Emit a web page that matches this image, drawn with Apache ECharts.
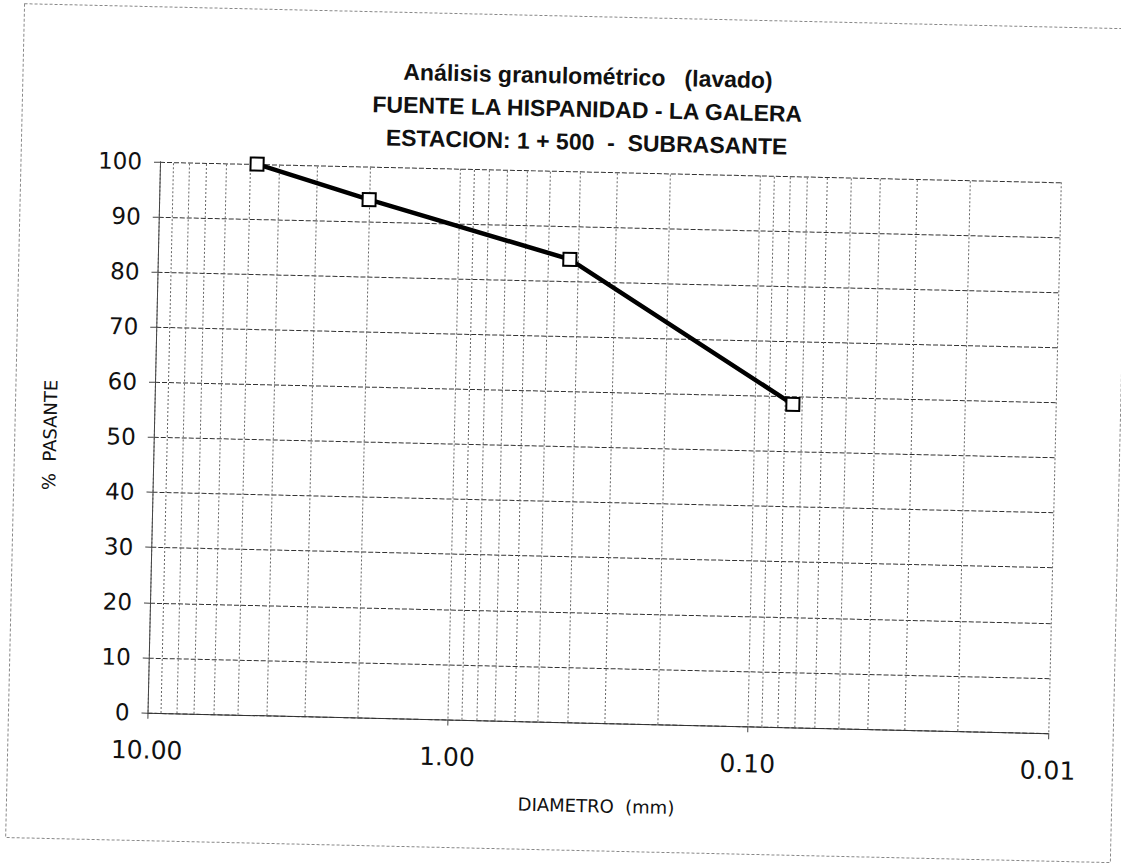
<!DOCTYPE html>
<html>
<head>
<meta charset="utf-8">
<script src="https://cdn.jsdelivr.net/npm/echarts@6/dist/echarts.min.js"></script>
<style>
html,body{margin:0;padding:0;background:#fff;overflow:hidden;}
#chart{width:1121px;height:863px;transform:rotate(1.3deg);transform-origin:50% 50%;}
</style>
</head>
<body>
<div id="chart"></div>
<script>
// ---- data ----
const titleLines = ['Análisis granulométrico\u00a0\u00a0\u00a0(lavado)', 'FUENTE LA HISPANIDAD - LA GALERA', 'ESTACION: 1 + 500\u00a0\u00a0-\u00a0\u00a0SUBRASANTE'];
const xAxisName = 'DIAMETRO\u00a0\u00a0(mm)';
const yAxisName = '%\u00a0\u00a0PASANTE';
const diameters = [4.75, 2.0, 0.425, 0.075];
const percentPassing = [100, 94.0, 84.0, 58.6];
const xMin = 0.01, xMax = 10;
const yMin = 0, yMax = 100, yStep = 10;
const decades = [1, 0.1, 0.01];
const minorMultipliers = [2, 3, 4, 5, 6, 7, 8, 9];

const minorGridValues = [];
decades.forEach(d => minorMultipliers.forEach(m => minorGridValues.push(m * d)));

const chart = echarts.init(document.getElementById('chart'), null, {renderer: 'svg'});
const gridLine = {color: '#333', width: 1, type: [5, 2]};
const vLine = {color: '#666', width: 1, type: [2, 2]};

chart.setOption({
  animation: false,
  backgroundColor: '#fff',
  title: {
    text: titleLines.join('\n'),
    left: 580,
    top: 59,
    padding: 0,
    textAlign: 'center',
    textStyle: {fontFamily: 'Liberation Sans', fontWeight: 'bold', fontSize: 23, lineHeight: 33, color: '#111'}
  },
  graphic: [{
    type: 'rect', silent: true, z: -1,
    shape: {x: 15, y: 16, width: 1105, height: 834},
    style: {fill: 'none', stroke: '#888', lineWidth: 1, lineDash: [3, 2]}
  }],
  grid: {left: 154, right: 66, top: 171, bottom: 141},
  xAxis: {
    type: 'log', logBase: 10, min: xMin, max: xMax, inverse: true,
    name: xAxisName, nameLocation: 'middle', nameGap: 74,
    nameTextStyle: {fontFamily: 'DejaVu Sans', fontSize: 18, color: '#111'},
    axisLine: {show: true, onZero: false, lineStyle: {color: '#333', width: 1}},
    axisTick: {show: true, inside: false, length: 6, lineStyle: {color: '#444'}},
    axisLabel: {
      show: true, margin: 25, fontFamily: 'DejaVu Sans', fontSize: 25, color: '#111',
      showMinLabel: true, showMaxLabel: true,
      formatter: v => Number(v).toFixed(2)
    },
    splitLine: {show: true, lineStyle: vLine}
  },
  yAxis: {
    type: 'value', min: yMin, max: yMax, interval: yStep,
    name: yAxisName, nameLocation: 'middle', nameGap: 95, nameRotate: 90,
    nameTextStyle: {fontFamily: 'DejaVu Sans', fontSize: 18, color: '#111'},
    axisLine: {show: true, onZero: false, lineStyle: {color: '#444', width: 1}},
    axisTick: {show: true, inside: false, length: 6, lineStyle: {color: '#444'}},
    axisLabel: {margin: 18, fontFamily: 'DejaVu Sans', fontSize: 23, color: '#111'},
    splitLine: {show: true, lineStyle: gridLine}
  },
  series: [{
    type: 'line',
    z: 5,
    data: diameters.map((d, i) => [d, percentPassing[i]]),
    symbol: 'rect', symbolSize: 13,
    itemStyle: {color: '#fff', borderColor: '#000', borderWidth: 2},
    lineStyle: {color: '#000', width: 4.5},
    markLine: {
      silent: true, z: 1, symbol: ['none', 'none'],
      label: {show: false},
      lineStyle: vLine,
      emphasis: {disabled: true},
      data: minorGridValues.map(v => ({xAxis: v}))
    }
  }]
});
</script>
</body>
</html>
